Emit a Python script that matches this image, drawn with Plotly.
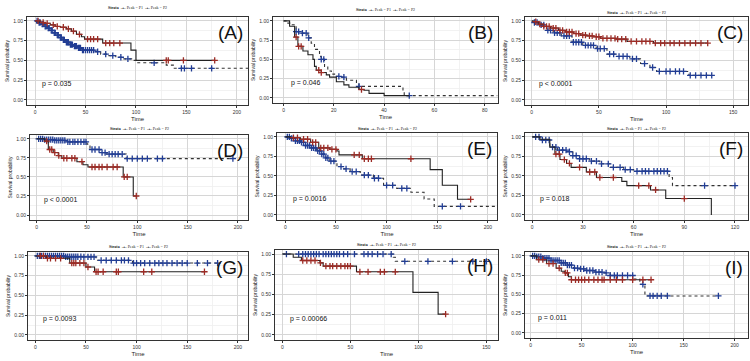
import plotly.graph_objects as go

# ---------------- DATA ----------------
panel_labels = ["(A)", "(B)", "(C)", "(D)", "(E)", "(F)", "(G)", "(H)", "(I)"]
p_values = ["p = 0.035", "p = 0.046", "p < 0.0001", "p < 0.0001", "p = 0.0016",
            "p = 0.018", "p = 0.0093", "p = 0.00066", "p = 0.011"]
x_ticks = [[0, 50, 100, 150, 200], [0, 20, 40, 60, 80], [0, 50, 100, 150],
           [0, 50, 100, 150, 200], [0, 50, 100, 150, 200], [0, 30, 60, 90, 120],
           [0, 50, 100, 150, 200], [0, 50, 100, 150], [0, 50, 100, 150, 200]]
y_ticks = [0.0, 0.25, 0.5, 0.75, 1.0]
y_tick_labels = ["0.00", "0.25", "0.50", "0.75", "1.00"]
legend_text = "<b>Strata</b>  <b>-+-</b> Peak = P1  <b>-+-</b> Peak = P2"

# Panel A
a_p1_t = [0, 5, 10, 15, 20, 25, 31, 36, 41, 46, 49, 67, 95, 100]
a_p1_s = [1.0, 0.98, 0.97, 0.95, 0.93, 0.92, 0.90, 0.87, 0.83, 0.80, 0.77, 0.72, 0.63, 0.50]
a_p1_end = 178
a_p1_c = [3, 8, 12, 18, 22, 28, 33, 38, 44, 52, 55, 58, 62, 70, 74, 78, 84, 130, 132, 147, 178]
a_p2_t = [0, 3, 6, 9, 12, 15, 18, 21, 24, 27, 30, 34, 38, 42, 46, 60, 65, 72, 80, 88, 97, 100, 130, 137]
a_p2_s = [1.0, 0.98, 0.96, 0.93, 0.91, 0.88, 0.85, 0.82, 0.79, 0.76, 0.73, 0.70, 0.68, 0.66, 0.63,
          0.61, 0.58, 0.56, 0.54, 0.52, 0.50, 0.47, 0.44, 0.40]
a_p2_end = 211
a_p2_c = [2, 4, 5, 7, 8, 10, 11, 13, 14, 16, 17, 19, 20, 22, 23, 25, 26, 28, 29, 31, 32, 33, 35, 36,
          37, 39, 40, 41, 43, 44, 45, 47, 48, 50, 52, 54, 56, 58, 62, 70, 77, 85, 92, 118, 145, 148, 155, 175]

# Panel B
b_p1_t = [0, 2.4, 4.4, 5.7, 7.7, 9.7, 11.7, 12.3, 13, 15, 17, 18.3, 21, 24, 26, 30, 32, 34, 40]
b_p1_s = [1.0, 0.93, 0.79, 0.67, 0.61, 0.56, 0.50, 0.41, 0.36, 0.33, 0.30, 0.27, 0.21, 0.17, 0.14,
          0.11, 0.10, 0.06, 0.03]
b_p1_end = 50
b_p1_c = [5, 6, 7, 14, 15, 31]
b_p2_t = [0, 1.7, 3, 5, 7, 9.7, 11, 12.3, 14.3, 15, 16.3, 17.6, 19, 20.3, 22.3, 25, 29, 30, 47.5, 48]
b_p2_s = [1.0, 0.97, 0.95, 0.86, 0.84, 0.78, 0.71, 0.63, 0.54, 0.50, 0.41, 0.35, 0.31, 0.28, 0.27,
          0.23, 0.19, 0.15, 0.095, 0.03]
b_p2_end = 85
b_p2_c = [5, 6, 7.5, 9, 10, 15, 16, 22, 24, 30, 50]

# Panel C
c_p1_t = [0, 1.2, 5, 8.7, 14, 20, 25, 31, 36, 41, 46, 51, 63, 71, 90.6]
c_p1_s = [1.0, 0.99, 0.96, 0.93, 0.91, 0.88, 0.86, 0.84, 0.82, 0.81, 0.80, 0.78, 0.77, 0.74, 0.72]
c_p1_end = 131
c_p1_c = [3, 6, 9, 11, 13, 16, 18, 21, 23, 26, 28, 30, 33, 35, 38, 40, 43, 45, 48, 50, 53, 56, 59,
          62, 64, 67, 70, 74, 78, 82, 85, 88, 92, 96, 99, 103, 106, 110, 114, 118, 122, 126, 131]
c_p2_t = [0, 1, 5, 11, 16, 22, 30, 38, 48, 56, 63, 73, 81, 88, 93, 117]
c_p2_s = [1.0, 0.98, 0.95, 0.88, 0.85, 0.81, 0.73, 0.69, 0.65, 0.58, 0.55, 0.52, 0.46, 0.41, 0.36, 0.31]
c_p2_end = 134
c_p2_c = [2, 4, 7, 9, 12, 14, 17, 19, 21, 24, 26, 28, 31, 33, 35, 37, 40, 42, 44, 46, 49, 51, 54,
          58, 61, 65, 68, 71, 75, 78, 84, 90, 95, 100, 103, 107, 110, 113, 118, 122, 126, 130, 134]

# Panel D
d_p1_t = [0, 8, 11.6, 16.5, 21.5, 25, 40, 46, 51, 86, 96]
d_p1_s = [1.0, 0.97, 0.86, 0.82, 0.78, 0.745, 0.70, 0.66, 0.63, 0.50, 0.25]
d_p1_end = 99
d_p1_c = [10, 13, 15, 18, 22, 27, 30, 35, 38, 45, 55, 58, 62, 65, 70, 76, 80, 87, 90, 99]
d_p2_t = [0, 6.6, 16.5, 30, 50, 53, 63, 69, 89]
d_p2_s = [1.0, 0.99, 0.98, 0.96, 0.93, 0.86, 0.82, 0.80, 0.74]
d_p2_end = 195
d_p2_c = [2, 4, 6, 8, 10, 12, 14, 16, 18, 20, 22, 24, 26, 28, 31, 33, 36, 38, 41, 44, 47, 49, 55,
          58, 62, 65, 68, 72, 75, 78, 81, 85, 90, 95, 100, 105, 110, 120, 125, 195]

# Panel E
e_p1_t = [0, 5, 15, 25, 33, 44, 51, 53, 76, 143, 155, 170]
e_p1_s = [1.0, 0.99, 0.97, 0.93, 0.86, 0.84, 0.82, 0.77, 0.72, 0.58, 0.38, 0.20]
e_p1_end = 183
e_p1_c = [8, 12, 18, 22, 27, 30, 35, 38, 42, 46, 50, 68, 73, 78, 82, 85, 124, 183]
e_p2_t = [0, 5, 10, 15, 20, 25, 31, 36, 40, 44, 51, 57, 64, 74, 87, 97, 110, 124, 137, 147]
e_p2_s = [1.0, 0.98, 0.95, 0.93, 0.89, 0.86, 0.82, 0.78, 0.73, 0.69, 0.62, 0.59, 0.555, 0.51, 0.47,
          0.38, 0.34, 0.29, 0.205, 0.11]
e_p2_end = 209
e_p2_c = [2, 4, 6, 8, 10, 12, 14, 16, 18, 20, 22, 24, 26, 28, 30, 32, 34, 36, 38, 40, 42, 45, 48,
          55, 60, 66, 70, 78, 82, 88, 92, 100, 106, 115, 120, 155, 173]

# Panel F
f_p1_t = [0, 4.5, 10.4, 13.4, 16.4, 20.3, 23, 32, 38, 53, 56, 70, 79, 106]
f_p1_s = [1.0, 0.97, 0.87, 0.78, 0.71, 0.66, 0.61, 0.55, 0.48, 0.43, 0.375, 0.32, 0.21, 0.0]
f_p1_end = 106
f_p1_c = [14, 16, 19, 22, 28, 34, 37, 40, 48, 63, 69, 73, 90]
f_p2_t = [0, 4.5, 10.4, 15, 20.3, 24, 28, 34, 40, 46, 54, 60, 81, 83]
f_p2_s = [1.0, 0.96, 0.87, 0.83, 0.81, 0.76, 0.72, 0.69, 0.655, 0.61, 0.58, 0.56, 0.48, 0.375]
f_p2_end = 120
f_p2_c = [2, 4, 6, 8, 10, 12, 14, 16, 18, 20, 22, 24, 26, 28, 30, 32, 35, 38, 41, 45, 48, 52, 55,
          58, 62, 65, 67, 69, 72, 74, 76, 78, 80, 102, 120]

# Panel G
g_p1_t = [0, 11, 34, 50, 58.5]
g_p1_s = [1.0, 0.97, 0.91, 0.86, 0.80]
g_p1_end = 167
g_p1_c = [5, 8, 12, 15, 20, 25, 36, 38, 40, 44, 48, 52, 60, 62, 67, 80, 82, 107, 115, 167]
g_p2_t = [0, 30, 47, 60, 96]
g_p2_s = [1.0, 0.99, 0.987, 0.945, 0.91]
g_p2_end = 180
g_p2_c = [2, 4, 6, 8, 10, 12, 14, 16, 18, 20, 22, 24, 26, 28, 30, 32, 34, 36, 38, 40, 42, 45, 48,
          52, 55, 58, 65, 70, 75, 80, 85, 88, 92, 97, 100, 104, 108, 113, 118, 122, 126, 130, 135,
          140, 145, 150, 160, 170, 180]

# Panel H
h_p1_t = [0, 8, 14, 27.6, 30, 54.5, 96, 114.5]
h_p1_s = [1.0, 0.96, 0.92, 0.89, 0.85, 0.78, 0.525, 0.255]
h_p1_end = 120
h_p1_c = [15, 18, 21, 24, 28, 32, 35, 37, 40, 43, 46, 48, 50, 57, 63, 72, 75, 83, 120]
h_p2_t = [0, 81.5, 83]
h_p2_s = [1.0, 0.96, 0.91]
h_p2_end = 150
h_p2_c = [3, 12, 15, 17, 19, 21, 23, 25, 27, 30, 32, 34, 36, 38, 40, 42, 45, 48, 53, 60, 63, 66,
          70, 74, 80, 90, 107, 125, 140, 150]

# Panel I
i_p1_t = [0, 6, 15.7, 25, 30, 33.6, 37, 40]
i_p1_s = [1.0, 0.95, 0.90, 0.84, 0.80, 0.78, 0.73, 0.69]
i_p1_end = 118
i_p1_c = [8, 12, 18, 22, 28, 34, 36, 40, 44, 47, 50, 53, 57, 62, 66, 70, 72, 78, 84, 90, 100, 110, 118]
i_p2_t = [0, 5, 12, 20, 29, 36, 42, 48, 55, 63, 71, 78, 100.5, 107, 112]
i_p2_s = [1.0, 0.99, 0.97, 0.94, 0.91, 0.88, 0.84, 0.83, 0.81, 0.79, 0.78, 0.745, 0.70, 0.63, 0.48]
i_p2_end = 184
i_p2_c = [2, 4, 6, 8, 10, 12, 14, 16, 18, 20, 22, 24, 26, 28, 30, 32, 34, 36, 38, 40, 43, 46, 49,
          52, 55, 58, 61, 64, 67, 70, 74, 78, 82, 85, 90, 95, 100, 110, 117, 120, 124, 128, 134, 184]

curves = [
    (a_p1_t, a_p1_s, a_p1_end, a_p1_c, a_p2_t, a_p2_s, a_p2_end, a_p2_c),
    (b_p1_t, b_p1_s, b_p1_end, b_p1_c, b_p2_t, b_p2_s, b_p2_end, b_p2_c),
    (c_p1_t, c_p1_s, c_p1_end, c_p1_c, c_p2_t, c_p2_s, c_p2_end, c_p2_c),
    (d_p1_t, d_p1_s, d_p1_end, d_p1_c, d_p2_t, d_p2_s, d_p2_end, d_p2_c),
    (e_p1_t, e_p1_s, e_p1_end, e_p1_c, e_p2_t, e_p2_s, e_p2_end, e_p2_c),
    (f_p1_t, f_p1_s, f_p1_end, f_p1_c, f_p2_t, f_p2_s, f_p2_end, f_p2_c),
    (g_p1_t, g_p1_s, g_p1_end, g_p1_c, g_p2_t, g_p2_s, g_p2_end, g_p2_c),
    (h_p1_t, h_p1_s, h_p1_end, h_p1_c, h_p2_t, h_p2_s, h_p2_end, h_p2_c),
    (i_p1_t, i_p1_s, i_p1_end, i_p1_c, i_p2_t, i_p2_s, i_p2_end, i_p2_c),
]

# ---------------- LAYOUT ----------------
W, H = 750, 361
boxes = [(27, 248, 17, 105), (273, 498, 17, 103), (525, 748, 17, 105),
         (30, 248, 135, 220), (277, 497, 133, 220), (525, 748, 133, 220),
         (28, 248, 252, 340), (275, 498, 250, 340), (525, 748, 252, 338)]
legend_y_px = [7, 10, 12, 129, 129, 129, 246, 245, 246]
x_ranges = [[-8, 211], [-4.2, 85.3], [-5, 161], [-6.6, 210], [-8.2, 209], [-4.3, 127.7],
            [-7.2, 210], [-5.4, 158.5], [-5.5, 213]]
y_range = [-0.065, 1.05]

P1_LINE = "#222222"
P2_LINE = "#333333"
P1_MARK = "#9c2b25"
P2_MARK = "#213d94"


def step_y(ts, ss, c):
    val = ss[0]
    for t, s in zip(ts, ss):
        if t <= c:
            val = s
    return val


fig = go.Figure()
annotations = []
for k in range(9):
    p1t, p1s, p1e, p1c, p2t, p2s, p2e, p2c = curves[k]
    xa = "x" if k == 0 else f"x{k+1}"
    ya = "y" if k == 0 else f"y{k+1}"
    fig.add_trace(go.Scatter(x=list(p2t) + [p2e], y=list(p2s) + [p2s[-1]], mode="lines",
                             line=dict(color=P2_LINE, width=1.1, dash="dot", shape="hv"),
                             xaxis=xa, yaxis=ya, showlegend=False, hoverinfo="skip"))
    fig.add_trace(go.Scatter(x=p2c, y=[step_y(p2t, p2s, c) for c in p2c], mode="markers",
                             marker=dict(symbol="cross-thin", size=4.5,
                                         line=dict(color=P2_MARK, width=1.3)),
                             xaxis=xa, yaxis=ya, showlegend=False, hoverinfo="skip"))
    fig.add_trace(go.Scatter(x=list(p1t) + [p1e], y=list(p1s) + [p1s[-1]], mode="lines",
                             line=dict(color=P1_LINE, width=1.1, shape="hv"),
                             xaxis=xa, yaxis=ya, showlegend=False, hoverinfo="skip"))
    fig.add_trace(go.Scatter(x=p1c, y=[step_y(p1t, p1s, c) for c in p1c], mode="markers",
                             marker=dict(symbol="cross-thin", size=4.5,
                                         line=dict(color=P1_MARK, width=1.3)),
                             xaxis=xa, yaxis=ya, showlegend=False, hoverinfo="skip"))

    x0, x1, y0, y1 = boxes[k]
    xdom = [x0 / W, min(x1 / W, 1.0)]
    ydom = [1 - y1 / H, 1 - y0 / H]
    xt = x_ticks[k]
    dx = xt[1] - xt[0]
    key_x = "xaxis" if k == 0 else f"xaxis{k+1}"
    key_y = "yaxis" if k == 0 else f"yaxis{k+1}"
    fig.layout[key_x] = dict(domain=xdom, anchor=ya, range=x_ranges[k],
                             tickvals=xt, ticks="outside", ticklen=2, tickcolor="#333",
                             tickfont=dict(size=5, color="#333", family="Liberation Sans"),
                             showgrid=True, gridcolor="#d6d6d6", gridwidth=1,
                             minor=dict(dtick=dx / 2, tick0=0, showgrid=True,
                                        gridcolor="#efefef", gridwidth=0.8),
                             showline=True, linecolor="#333", linewidth=1, mirror=True,
                             zeroline=False,
                             title=dict(text="Time", font=dict(size=6, color="#222",
                                                               family="Liberation Sans"),
                                        standoff=2))
    fig.layout[key_y] = dict(domain=ydom, anchor=xa, range=y_range,
                             tickvals=y_ticks, ticktext=y_tick_labels,
                             ticks="outside", ticklen=2, tickcolor="#333",
                             tickfont=dict(size=5, color="#333", family="Liberation Sans"),
                             showgrid=True, gridcolor="#d6d6d6", gridwidth=1,
                             minor=dict(dtick=0.125, tick0=0, showgrid=True,
                                        gridcolor="#efefef", gridwidth=0.8),
                             showline=True, linecolor="#333", linewidth=1, mirror=True,
                             zeroline=False,
                             title=dict(text="Survival probability",
                                        font=dict(size=5, color="#222", family="Liberation Sans"),
                                        standoff=3))
    xref_d = xa + " domain"
    yref_d = ya + " domain"
    annotations.append(dict(text=panel_labels[k], xref=xref_d, yref=yref_d, x=0.985, y=0.97,
                            xanchor="right", yanchor="top", showarrow=False,
                            font=dict(size=19, color="#111", family="Liberation Sans")))
    annotations.append(dict(text=p_values[k], xref=xa, yref=ya, x=x_ranges[k][1] * 0.025,
                            y=0.2, xanchor="left", yanchor="middle", showarrow=False,
                            font=dict(size=7, color="#111", family="Liberation Sans")))
    annotations.append(dict(text=legend_text, xref=xref_d, yref="paper", x=0.5,
                            y=1 - legend_y_px[k] / H, xanchor="center", yanchor="middle",
                            showarrow=False,
                            font=dict(size=4, color="#222", family="Liberation Serif")))

fig.update_layout(width=W, height=H, margin=dict(l=0, r=0, t=0, b=0),
                  paper_bgcolor="white", plot_bgcolor="white",
                  annotations=annotations, showlegend=False)

# remove the default page margin so the 750x361 figure fills the window exactly
fig.write_html("out.html", config={"displayModeBar": False, "staticPlot": True},
               post_script="document.body.style.margin='0';document.body.style.overflow='hidden';")
